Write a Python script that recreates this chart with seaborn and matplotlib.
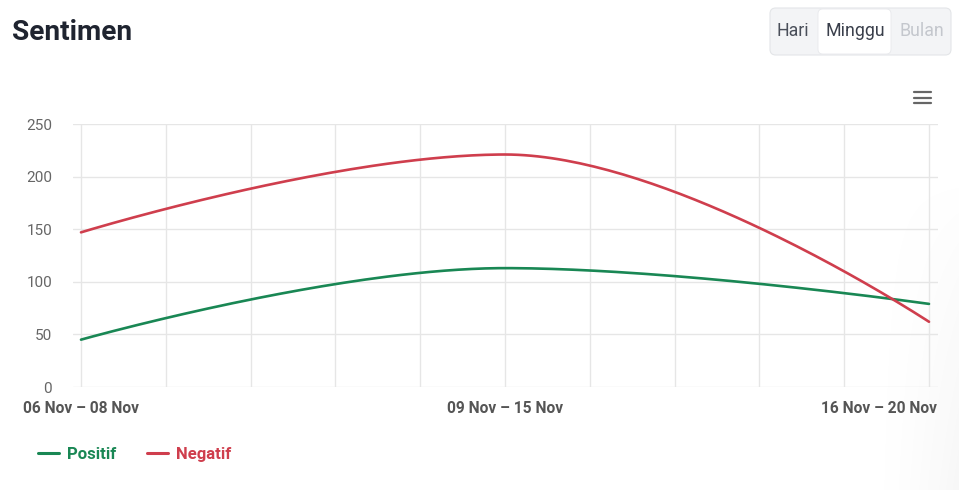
import numpy as np
import pandas as pd
import seaborn as sns
import matplotlib.pyplot as plt
from matplotlib.patches import FancyBboxPatch
from matplotlib.lines import Line2D
import matplotlib.transforms as mtransforms

# ---- data -------------------------------------------------------------
periods = ["06 Nov – 08 Nov", "09 Nov – 15 Nov", "16 Nov – 20 Nov"]
positif = [45, 113, 79]
negatif = [147, 221, 62]
series_names = ["Positif", "Negatif"]
series_colors = {"Positif": "#198754", "Negatif": "#cf3e4d"}
y_ticks = [0, 50, 100, 150, 200, 250]
range_buttons = ["Hari", "Minggu", "Bulan"]

W, H = 959, 490
sns.set_theme(style="white")
plt.rcParams["font.family"] = ["Roboto", "DejaVu Sans"]

fig = plt.figure(figsize=(W / 100, H / 100), dpi=100)
fig.patch.set_facecolor("white")


def fx(px):
    return px / W


def fy(py):
    return 1 - py / H


# soft card shadow along the right edge
bg = fig.add_axes([0, 0, 1, 1], zorder=-10)
bg.set_axis_off()
xx = np.linspace(0, W, W)
yy = np.linspace(0, H, H)
gx = np.clip((xx - 870) / (W - 870), 0, 1) ** 1.6
gy = np.clip((yy - 180) / (H - 180), 0, 1) ** 0.8
shade = np.outer(gy, gx) * 0.07
img = np.ones((H, W, 4))
img[..., :3] = 0.55
img[..., 3] = shade
bg.imshow(img, extent=[0, 1, 0, 1], aspect="auto", origin="upper")
bg.set_xlim(0, 1)
bg.set_ylim(0, 1)


# ---- smooth spline path (Highcharts-style cubic Bezier) ----------------
def spline_points(values, smoothing=1.5, n=80):
    xs = np.arange(len(values), dtype=float)
    ys = np.asarray(values, dtype=float)
    m = len(ys)
    lc = [None] * m
    rc = [None] * m
    denom = smoothing + 1
    for i in range(1, m - 1):
        px, py = xs[i], ys[i]
        lx, ly = xs[i - 1], ys[i - 1]
        nx, ny = xs[i + 1], ys[i + 1]
        lcx = (smoothing * px + lx) / denom
        lcy = (smoothing * py + ly) / denom
        rcx = (smoothing * px + nx) / denom
        rcy = (smoothing * py + ny) / denom
        if rcx != lcx:
            corr = (rcy - lcy) * (rcx - px) / (rcx - lcx) + py - rcy
            lcy += corr
            rcy += corr
        if lcy > ly and lcy > py:
            lcy = max(ly, py)
            rcy = 2 * py - lcy
        elif lcy < ly and lcy < py:
            lcy = min(ly, py)
            rcy = 2 * py - lcy
        if rcy > ny and rcy > py:
            rcy = max(ny, py)
            lcy = 2 * py - rcy
        elif rcy < ny and rcy < py:
            rcy = min(ny, py)
            lcy = 2 * py - rcy
        lc[i] = (lcx, lcy)
        rc[i] = (rcx, rcy)
    out_x, out_y = [xs[0]], [ys[0]]
    t = np.linspace(0, 1, n)[1:]
    for i in range(1, m):
        p0 = np.array([xs[i - 1], ys[i - 1]])
        p1 = np.array(rc[i - 1] if rc[i - 1] else p0)
        p3 = np.array([xs[i], ys[i]])
        p2 = np.array(lc[i] if lc[i] else p3)
        b = ((1 - t) ** 3)[:, None] * p0 + (3 * (1 - t) ** 2 * t)[:, None] * p1 \
            + (3 * (1 - t) * t ** 2)[:, None] * p2 + (t ** 3)[:, None] * p3
        out_x.extend(b[:, 0])
        out_y.extend(b[:, 1])
    return np.array(out_x), np.array(out_y)


frames = []
for name, vals in zip(series_names, [positif, negatif]):
    sx, sy = spline_points(vals)
    frames.append(pd.DataFrame({"x": sx, "y": sy, "series": name, "order": np.arange(len(sx))}))
df = pd.concat(frames, ignore_index=True)

# ---- main plot ---------------------------------------------------------
left, right, top, bottom = 73, 938, 124, 387
ax = fig.add_axes([fx(left), fy(bottom), fx(right - left), (bottom - top) / H])
ax.patch.set_alpha(0)

sns.lineplot(data=df, x="x", y="y", hue="series", palette=series_colors,
             sort=False, estimator=None, linewidth=1.9, legend=False, ax=ax, zorder=3)

ax.set_xlim(-8 / 424, 2 + 9 / 424)
ax.set_ylim(0, 250)
for s in ax.spines.values():
    s.set_visible(False)

grid_c = "#e6e6e6"
for v in y_ticks:
    ax.axhline(v, color=grid_c, lw=1.0, zorder=1)
for gxv in np.arange(0, 2.0001, 0.2):
    ax.axvline(gxv, color=grid_c, lw=1.0, zorder=1)

ax.set_yticks(y_ticks)
ax.set_yticklabels([str(v) for v in y_ticks], color="#666666", fontsize=11)
ax.set_xticks(range(len(periods)))
ax.set_xticklabels(periods, color="#555555", fontsize=11.2, fontweight="bold")
ax.tick_params(axis="y", length=0, pad=15)
ax.tick_params(axis="x", length=0, pad=10)
ax.set_xlabel("")
ax.set_ylabel("")
labels = ax.get_xticklabels()
labels[-1].set_horizontalalignment("right")
labels[-1].set_transform(labels[-1].get_transform() +
                         mtransforms.ScaledTranslation(8 / 100, 0, fig.dpi_scale_trans))

# ---- legend ------------------------------------------------------------
handles = [Line2D([0], [0], color=series_colors[n], lw=2.2) for n in series_names]
leg = fig.legend(handles, series_names, loc="center left",
                 bbox_to_anchor=(fx(38), fy(454)), frameon=False, ncol=2,
                 handlelength=1.26, handletextpad=0.48, columnspacing=1.86,
                 borderpad=0, borderaxespad=0,
                 prop={"family": ["Roboto", "DejaVu Sans"], "weight": "bold", "size": 12},
                 labelcolor="linecolor")

# ---- header --------------------------------------------------------------
fig.text(fx(12), fy(33), "Sentimen", fontsize=20.2, fontweight="bold",
         color="#1f2430", ha="left", va="center")

group = FancyBboxPatch((fx(770), fy(55)), fx(181), (55 - 8) / H,
                       boxstyle="round,pad=0,rounding_size=0.006",
                       transform=fig.transFigure, facecolor="#f3f4f6",
                       edgecolor="#e3e5e8", lw=0.8, mutation_aspect=W / H)
fig.patches.append(group)
active = FancyBboxPatch((fx(818), fy(54)), fx(73), (54 - 9) / H,
                        boxstyle="round,pad=0,rounding_size=0.005",
                        transform=fig.transFigure, facecolor="white",
                        edgecolor="#e8e9ec", lw=0.6, mutation_aspect=W / H)
fig.patches.append(active)
btn_x = [793, 855, 922]
btn_col = ["#4a4f5a", "#3a3f4b", "#c4c7cd"]
for label, bx, bc in zip(range_buttons, btn_x, btn_col):
    fig.text(fx(bx), fy(31), label, fontsize=12.8, color=bc, ha="center", va="center")

# menu icon
for iy in [92, 97.5, 103]:
    fig.add_artist(Line2D([fx(914), fx(931)], [fy(iy), fy(iy)],
                          transform=fig.transFigure, color="#666666", lw=1.6))

fig.savefig("out.png", dpi=100)
